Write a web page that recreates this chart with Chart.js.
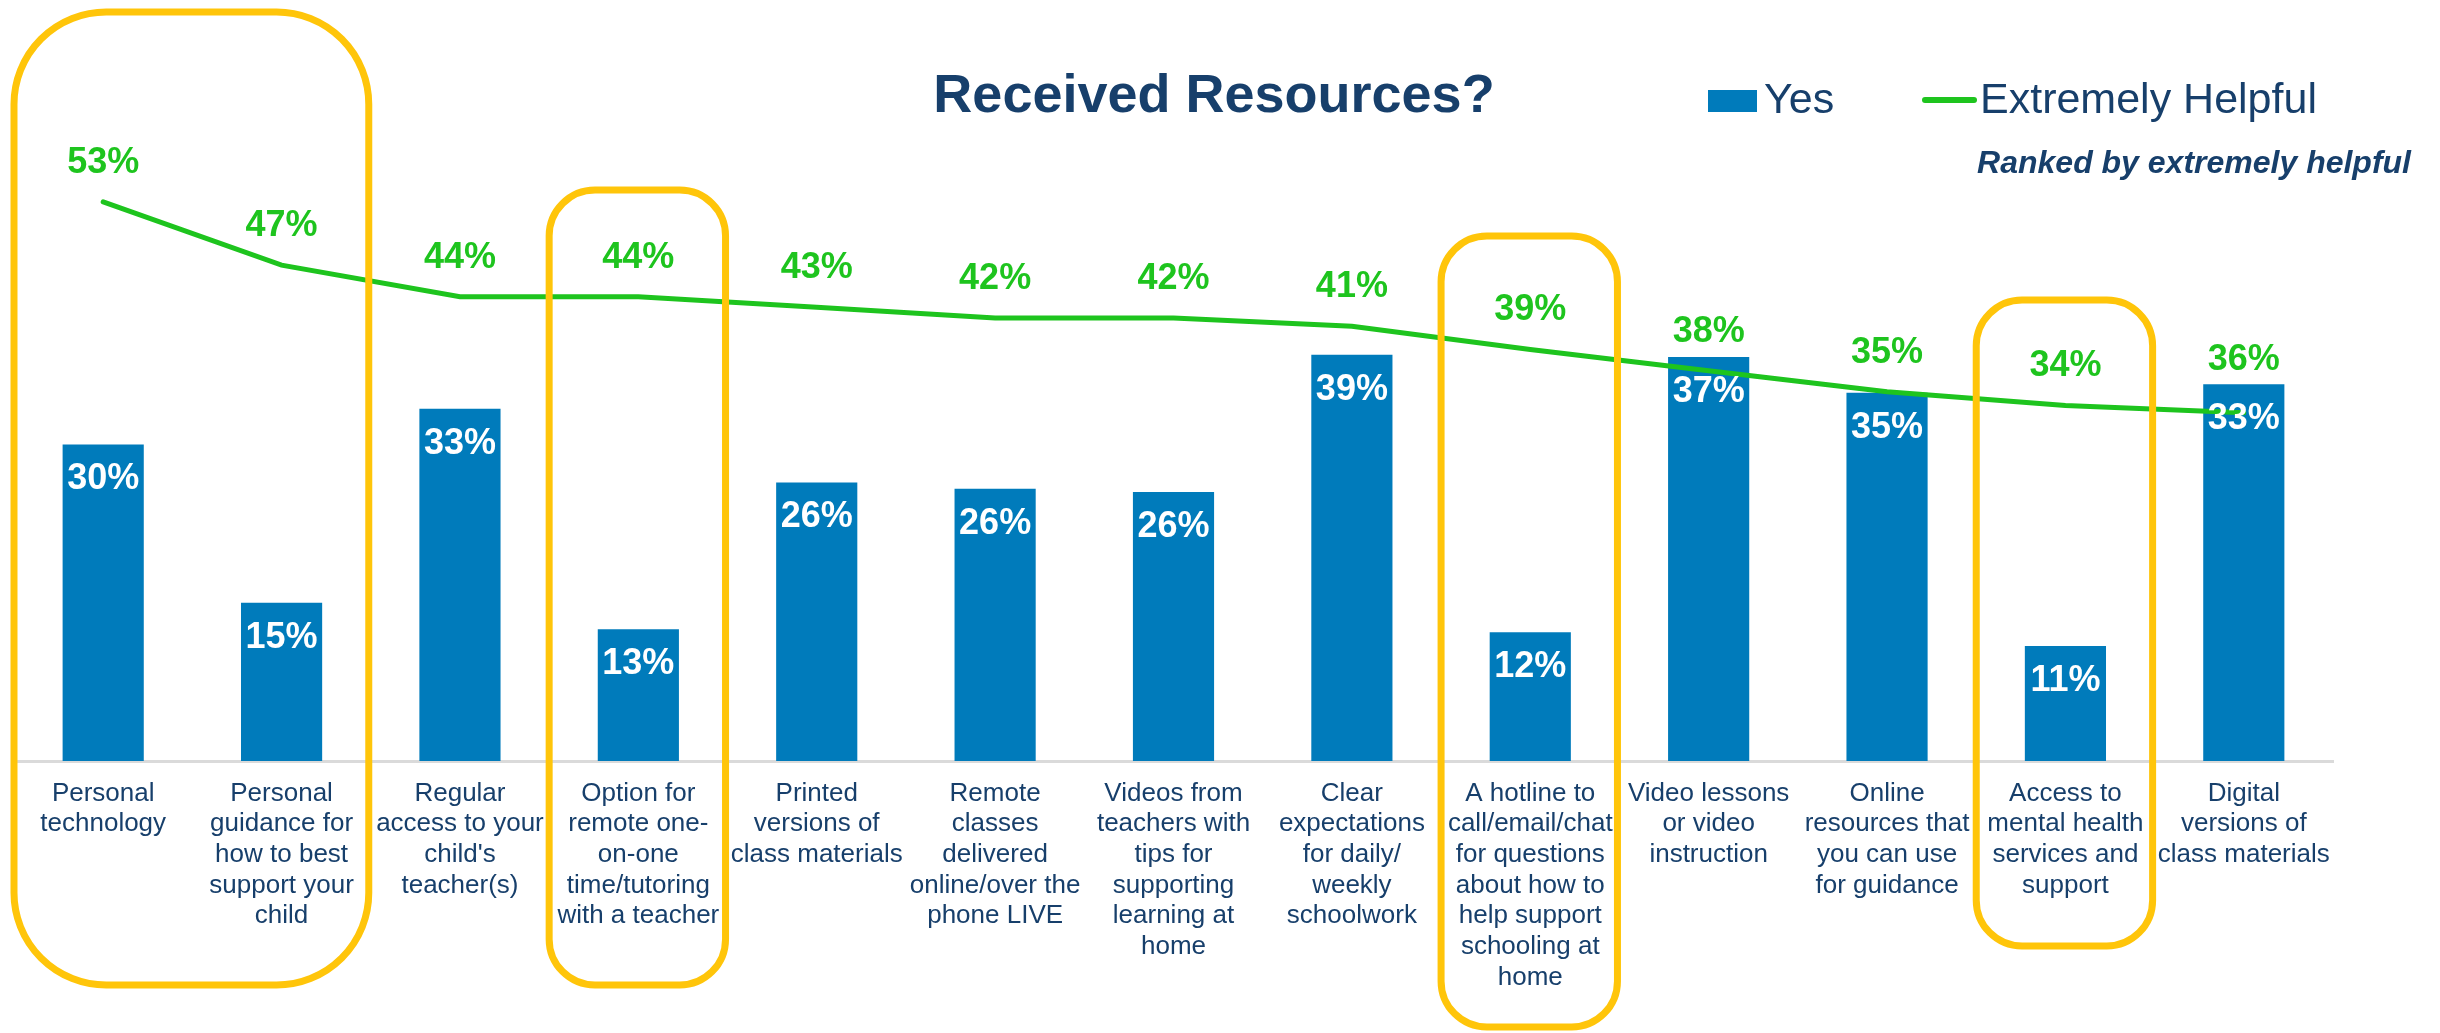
<!DOCTYPE html>
<html lang="en">
<head>
  <meta charset="UTF-8" />
  <title>Received Resources?</title>
  <script src="https://cdn.jsdelivr.net/npm/chart.js"></script>
  <style>
    html, body { margin: 0; padding: 0; background: #fff; }
    canvas { display: block; }
  </style>
</head>
<body>
  <canvas id="myChart" width="2440" height="1033"></canvas>

  <script>
    // categories (wrapped the same way as the slide)
    const categories = [
      ['Personal', 'technology'],
      ['Personal', 'guidance for', 'how to best', 'support your', 'child'],
      ['Regular', 'access to your', "child's", 'teacher(s)'],
      ['Option for', 'remote one-', 'on-one', 'time/tutoring', 'with a teacher'],
      ['Printed', 'versions of', 'class materials'],
      ['Remote', 'classes', 'delivered', 'online/over the', 'phone LIVE'],
      ['Videos from', 'teachers with', 'tips for', 'supporting', 'learning at', 'home'],
      ['Clear', 'expectations', 'for daily/', 'weekly', 'schoolwork'],
      ['A hotline to', 'call/email/chat', 'for questions', 'about how to', 'help support', 'schooling at', 'home'],
      ['Video lessons', 'or video', 'instruction'],
      ['Online', 'resources that', 'you can use', 'for guidance'],
      ['Access to', 'mental health', 'services and', 'support'],
      ['Digital', 'versions of', 'class materials']
    ];

    // values as drawn
    const yesValues = [30, 15, 33.4, 12.5, 26.4, 25.8, 25.5, 38.5, 12.2, 38.3, 34.9, 10.9, 35.7];
    const helpfulValues = [53, 47, 44, 44, 43, 42, 42, 41.2, 39, 37, 35, 33.7, 33];

    // data label texts as printed on the slide
    const yesLabels = ['30%', '15%', '33%', '13%', '26%', '26%', '26%', '39%', '12%', '37%', '35%', '11%', '33%'];
    const helpfulLabels = ['53%', '47%', '44%', '44%', '43%', '42%', '42%', '41%', '39%', '38%', '35%', '34%', '36%'];

    // highlighted categories (first, last index)
    const highlightGroups = [[0, 1], [3, 3], [8, 8], [11, 11]];

    const FONT = '"Liberation Sans", Arial, sans-serif';
    const NAVY = '#173F6B';
    const BLUE = '#007BBB';
    const GREEN = '#1EC41E';
    const GOLD = '#FFC50A';

    // vertical extent of the yellow outlines, in pixels
    const boxEdges = [
      { top: 12, bottom: 985 },
      { top: 190, bottom: 985 },
      { top: 236, bottom: 1027 },
      { top: 300, bottom: 946 }
    ];

    function roundedBox(ctx, l, t, r, b, rad) {
      ctx.beginPath();
      ctx.moveTo(l + rad, t);
      ctx.lineTo(r - rad, t);
      ctx.arcTo(r, t, r, t + rad, rad);
      ctx.lineTo(r, b - rad);
      ctx.arcTo(r, b, r - rad, b, rad);
      ctx.lineTo(l + rad, b);
      ctx.arcTo(l, b, l, b - rad, rad);
      ctx.lineTo(l, t + rad);
      ctx.arcTo(l, t, l + rad, t, rad);
      ctx.closePath();
    }

    const overlay = {
      id: 'overlay',
      afterDatasetsDraw(chart) {
        const ctx = chart.ctx;
        const xs = chart.scales.x, ys = chart.scales.y;
        ctx.save();
        ctx.textAlign = 'center';
        ctx.textBaseline = 'middle';
        ctx.font = 'bold 36px ' + FONT;

        // white labels inside the bars
        ctx.fillStyle = '#ffffff';
        yesValues.forEach((v, i) => {
          ctx.fillText(yesLabels[i], xs.getPixelForValue(i), ys.getPixelForValue(v) + 35);
        });

        // green labels above the line (and above the bar if it is higher)
        ctx.fillStyle = GREEN;
        helpfulValues.forEach((v, i) => {
          const ly = Math.min(ys.getPixelForValue(v) - 39, ys.getPixelForValue(yesValues[i]) - 24);
          ctx.fillText(helpfulLabels[i], xs.getPixelForValue(i), ly);
        });
        ctx.restore();
      },
      afterDraw(chart) {
        const ctx = chart.ctx;
        const xs = chart.scales.x;
        const step = xs.getPixelForValue(1) - xs.getPixelForValue(0);
        ctx.save();

        // title
        ctx.fillStyle = NAVY;
        ctx.textAlign = 'center';
        ctx.textBaseline = 'alphabetic';
        ctx.font = 'bold 54px ' + FONT;
        ctx.fillText('Received Resources?', 1214, 112);

        // legend
        const ds = chart.data.datasets;
        ctx.fillStyle = BLUE;
        ctx.fillRect(1708, 90, 49, 22);
        ctx.strokeStyle = GREEN;
        ctx.lineWidth = 6;
        ctx.lineCap = 'round';
        ctx.beginPath();
        ctx.moveTo(1925, 100);
        ctx.lineTo(1974, 100);
        ctx.stroke();
        ctx.fillStyle = NAVY;
        ctx.textAlign = 'left';
        ctx.font = '43px ' + FONT;
        ctx.fillText(ds[0].label, 1764, 113);
        ctx.fillText(ds[1].label, 1980, 113);

        // subtitle
        ctx.textAlign = 'right';
        ctx.font = 'italic bold 32px ' + FONT;
        ctx.fillText('Ranked by extremely helpful', 2411, 173);

        // yellow outlines
        ctx.strokeStyle = GOLD;
        ctx.lineWidth = 7;
        highlightGroups.forEach((g, k) => {
          const l = xs.getPixelForValue(g[0]) - step / 2;
          const r = xs.getPixelForValue(g[1]) + step / 2 - 2;
          const t = boxEdges[k].top, b = boxEdges[k].bottom;
          const rad = 0.26 * Math.min(r - l, b - t);
          roundedBox(ctx, l, t, r, b, rad);
          ctx.stroke();
        });
        ctx.restore();
      }
    };

    const ctx = document.getElementById('myChart').getContext('2d');
    const myChart = new Chart(ctx, {
      data: {
        labels: categories,
        datasets: [
          {
            type: 'bar',
            label: 'Yes',
            data: yesValues,
            backgroundColor: BLUE,
            barPercentage: 0.455,
            categoryPercentage: 1,
            order: 1
          },
          {
            type: 'line',
            label: 'Extremely Helpful',
            data: helpfulValues,
            borderColor: GREEN,
            borderWidth: 5,
            borderCapStyle: 'round',
            pointRadius: 0,
            tension: 0,
            fill: false,
            order: 0
          }
        ]
      },
      options: {
        responsive: false,
        animation: false,
        layout: {
          padding: { top: 128, left: 14, right: 107, bottom: 0 }
        },
        plugins: {
          legend: { display: false },
          title: { display: false },
          tooltip: { enabled: false }
        },
        scales: {
          x: {
            grid: { display: false, drawTicks: false },
            border: { display: true, color: '#DADADA', width: 3 },
            ticks: {
              color: NAVY,
              font: { family: FONT, size: 26, lineHeight: 1.18 },
              padding: 17,
              maxRotation: 0,
              minRotation: 0,
              autoSkip: false
            },
            afterFit: (scale) => { scale.height = 272; }
          },
          y: {
            display: false,
            min: 0,
            max: 60
          }
        }
      },
      plugins: [overlay]
    });
  </script>
</body>
</html>
